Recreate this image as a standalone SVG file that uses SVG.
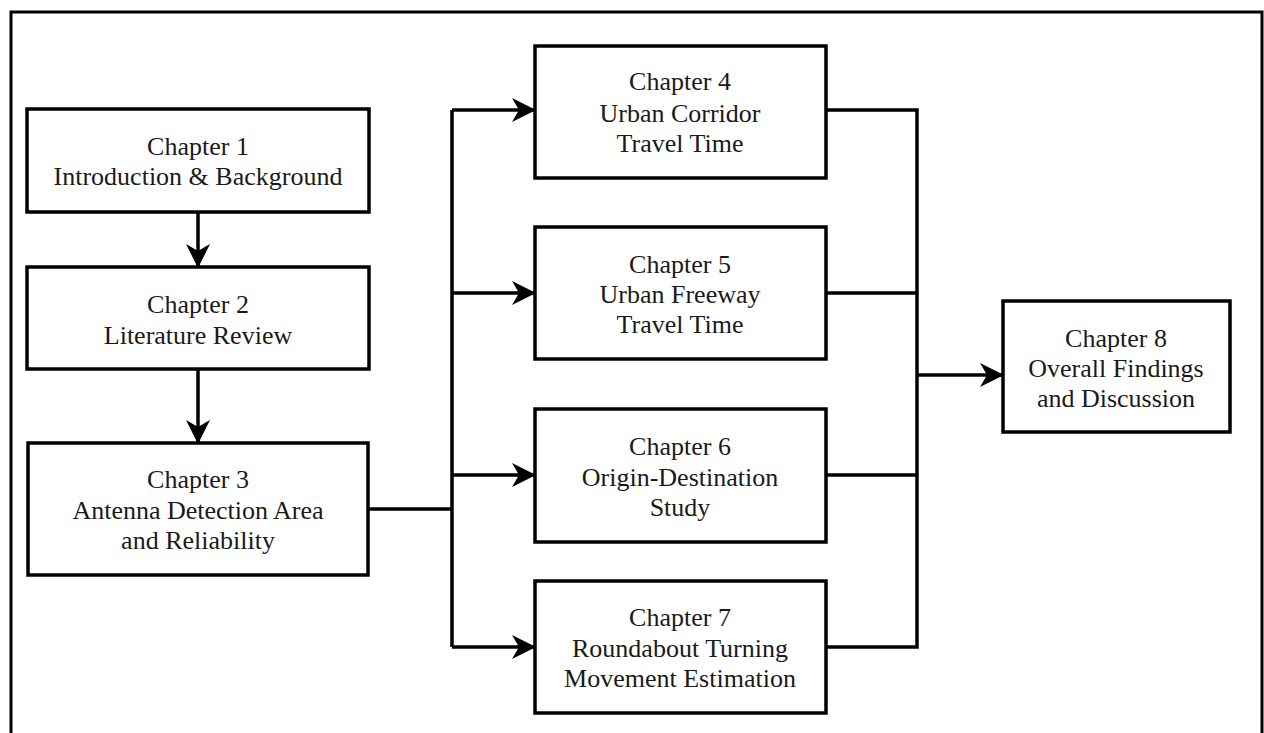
<svg xmlns="http://www.w3.org/2000/svg" width="1264" height="733" viewBox="0 0 1264 733">
  <style>
    .box { fill: #ffffff; stroke: #000000; stroke-width: 3.5; }
    .lbl { font-family: "Liberation Serif", "Times New Roman", serif; font-size: 26px; fill: #1a1a1a; text-anchor: middle; }
    .wire { fill: none; stroke: #000000; stroke-width: 3.5; }
    .arrow { fill: none; stroke: #000000; stroke-width: 3.5; marker-end: url(#head); }
  </style>
  <defs>
    <marker id="head" markerUnits="userSpaceOnUse" viewBox="0 0 24 24" markerWidth="24" markerHeight="24" refX="23" refY="12" orient="auto">
      <path d="M0,0 L24,12 L0,24 L7,12 Z" fill="#000000"/>
    </marker>
  </defs>
  <rect x="0" y="0" width="1264" height="733" fill="#ffffff"/>
  <path d="M11,733 V12 H1262 V733" fill="none" stroke="#000000" stroke-width="3"/>

  <g id="connectors">
    <path class="arrow" d="M198,212 V267"/>
    <path class="arrow" d="M198,369 V443"/>
    <path class="wire" d="M368,509 H452"/>
    <path class="wire" d="M452,110 V647"/>
    <path class="arrow" d="M452,110 H535"/>
    <path class="arrow" d="M452,293 H535"/>
    <path class="arrow" d="M452,475 H535"/>
    <path class="arrow" d="M452,647 H535"/>
    <path class="wire" d="M826,110 H917 V647 H826"/>
    <path class="wire" d="M826,293 H917"/>
    <path class="wire" d="M826,475 H917"/>
    <path class="arrow" d="M917,375 H1003"/>
  </g>

  <g id="ch1">
    <rect class="box" x="27" y="109" width="342" height="103"/>
    <text class="lbl" x="198" y="155">Chapter 1</text>
    <text class="lbl" x="198" y="185">Introduction &amp; Background</text>
  </g>
  <g id="ch2">
    <rect class="box" x="27" y="267" width="342" height="102"/>
    <text class="lbl" x="198" y="313">Chapter 2</text>
    <text class="lbl" x="198" y="344">Literature Review</text>
  </g>
  <g id="ch3">
    <rect class="box" x="28" y="443" width="340" height="132"/>
    <text class="lbl" x="198" y="488">Chapter 3</text>
    <text class="lbl" x="198" y="519">Antenna Detection Area</text>
    <text class="lbl" x="198" y="549">and Reliability</text>
  </g>
  <g id="ch4">
    <rect class="box" x="535" y="46" width="291" height="132"/>
    <text class="lbl" x="680" y="90">Chapter 4</text>
    <text class="lbl" x="680" y="122">Urban Corridor</text>
    <text class="lbl" x="680" y="152">Travel Time</text>
  </g>
  <g id="ch5">
    <rect class="box" x="535" y="227" width="291" height="132"/>
    <text class="lbl" x="680" y="273">Chapter 5</text>
    <text class="lbl" x="680" y="303">Urban Freeway</text>
    <text class="lbl" x="680" y="333">Travel Time</text>
  </g>
  <g id="ch6">
    <rect class="box" x="535" y="409" width="291" height="133"/>
    <text class="lbl" x="680" y="455">Chapter 6</text>
    <text class="lbl" x="680" y="486">Origin-Destination</text>
    <text class="lbl" x="680" y="516">Study</text>
  </g>
  <g id="ch7">
    <rect class="box" x="535" y="581" width="291" height="132"/>
    <text class="lbl" x="680" y="626">Chapter 7</text>
    <text class="lbl" x="680" y="657">Roundabout Turning</text>
    <text class="lbl" x="680" y="687">Movement Estimation</text>
  </g>
  <g id="ch8">
    <rect class="box" x="1003" y="301" width="227" height="131"/>
    <text class="lbl" x="1116" y="347">Chapter 8</text>
    <text class="lbl" x="1116" y="377">Overall Findings</text>
    <text class="lbl" x="1116" y="407">and Discussion</text>
  </g>
</svg>
